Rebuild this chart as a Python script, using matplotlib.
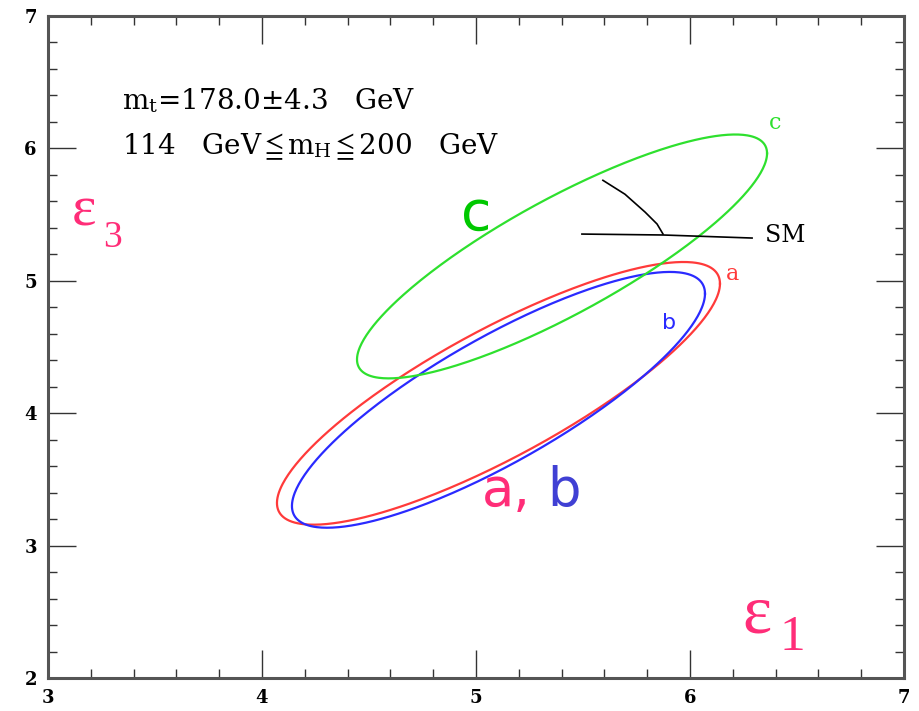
import numpy as np
import matplotlib
matplotlib.use("Agg")
import matplotlib.pyplot as plt
from matplotlib.ticker import MultipleLocator

# ---- data ----
ellipse_names = ["a", "b", "c"]
centers_x = [5.105, 5.105, 5.402]
centers_y = [4.15, 4.101, 5.184]
half_width_x = [1.035, 0.965, 0.958]
half_width_y = [0.992, 0.966, 0.921]
correlations = [0.835, 0.83, 0.845]

sm_higgs_x = [5.593, 5.696, 5.79, 5.846, 5.874]
sm_higgs_y = [5.759, 5.654, 5.519, 5.429, 5.353]
sm_top_x = [5.495, 5.874, 6.29]
sm_top_y = [5.353, 5.346, 5.323]

x_ticks = [3, 4, 5, 6, 7]
y_ticks = [2, 3, 4, 5, 6, 7]

line_colors = {"a": "#ff3a3a", "b": "#2a2aff", "c": "#2ee02e"}

plt.rcParams['mathtext.fontset'] = 'stix'
fig = plt.figure(figsize=(9.19, 7.11), dpi=100)
ax = fig.add_axes([0.0522, 0.0464, 0.9315, 0.9311])

t = np.linspace(0, 2 * np.pi, 400)
for name, cx, cy, wx, wy, r in zip(ellipse_names, centers_x, centers_y,
                                   half_width_x, half_width_y, correlations):
    phi = np.arccos(r)
    ax.plot(cx + wx * np.cos(t), cy + wy * np.cos(t - phi),
            color=line_colors[name], lw=1.6)

ax.plot(sm_higgs_x, sm_higgs_y, color="black", lw=1.2)
ax.plot(sm_top_x, sm_top_y, color="black", lw=1.2)

serif = "DejaVu Serif"
times = "Liberation Serif"
ax.text(6.35, 5.345, "SM", fontsize=17, family=serif, va="center", ha="left")
ax.text(6.40, 6.19, "c", fontsize=16, family=serif, color=line_colors["c"], ha="center", va="center")
ax.text(6.20, 5.05, "a", fontsize=16, family=serif, color=line_colors["a"], ha="center", va="center")
ax.text(5.90, 4.68, "b", fontsize=16, family="DejaVu Sans", color=line_colors["b"], ha="center", va="center")

ax.text(3.346, 6.293, r"m$_\mathregular{t}$=178.0±4.3   GeV", fontsize=20, family=serif,
        va="baseline", ha="left")
ax.text(3.346, 5.955, r"114   GeV$\leqq$m$_\mathregular{H}$$\leqq$200   GeV", fontsize=20, family=serif,
        va="baseline", ha="left")

pink = "#ff2d78"
ax.text(5.0, 5.5, "c", fontsize=40, family="DejaVu Sans", color="#00c800", ha="center", va="center")
ax.text(5.14, 3.30, "a,", fontsize=38, family="DejaVu Sans", color=pink, ha="center", va="baseline")
ax.text(5.41, 3.30, "b", fontsize=38, family="DejaVu Sans", color="#4040d4", ha="center", va="baseline")

ax.text(3.112, 5.526, "ε", fontsize=42, family=times, color=pink, ha="left", va="center")
ax.text(3.257, 5.256, "3", fontsize=27, family=times, color=pink, ha="left", va="baseline")
ax.text(6.245, 2.474, "ε", fontsize=50, family=times, color=pink, ha="left", va="center")
ax.text(6.42, 2.21, "1", fontsize=37, family=times, color=pink, ha="left", va="baseline")

ax.set_xlim(3, 7)
ax.set_ylim(2, 7)
ax.set_xticks(x_ticks)
ax.set_yticks(y_ticks)
ax.xaxis.set_minor_locator(MultipleLocator(0.2))
ax.yaxis.set_minor_locator(MultipleLocator(0.2))
ax.tick_params(which="both", direction="in", top=True, right=True, color="#333333")
ax.tick_params(which="major", length=20, width=1.0, labelsize=13, pad=8)
ax.tick_params(which="minor", length=6.5, width=1.0)
for lab in ax.get_xticklabels() + ax.get_yticklabels():
    lab.set_family(serif)
    lab.set_fontweight("bold")
for sp in ax.spines.values():
    sp.set_linewidth(2.2)
    sp.set_color("#555555")

fig.savefig("out.png", dpi=100)
